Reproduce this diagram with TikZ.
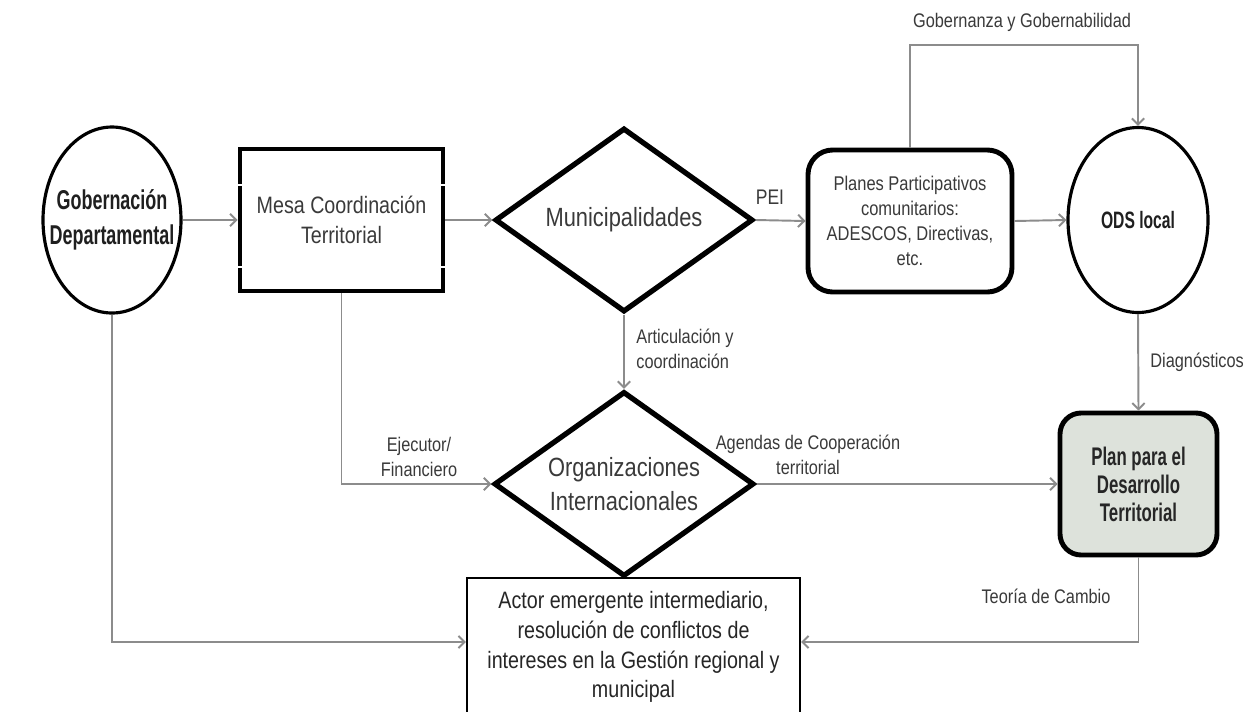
\documentclass[tikz,border=0pt]{standalone}
\usepackage{fontspec}
\setmainfont{Liberation Sans}[FakeStretch=0.83]
\newfontfamily\condfont{Liberation Sans}[FakeStretch=0.66]
\usetikzlibrary{shapes.geometric,arrows.meta}
\definecolor{txt}{HTML}{3A3A3A}
\definecolor{link}{HTML}{8C8C8C}
\definecolor{planfill}{HTML}{DDE2DB}

\begin{document}
\begin{tikzpicture}[x=0.02cm,y=-0.02cm,
  every node/.style={text=txt, align=center},
  flow/.style={draw=link, line width=1.1pt, -{Straight Barb[length=3.5pt,width=7pt]}},
  lbl/.style={font=\fontsize{11.2}{14.5}\selectfont, text=txt},
  oval/.style={ellipse, draw=black, line width=1.8pt, inner sep=0pt},
  thickbox/.style={rectangle, draw=black, line width=2.8pt, inner sep=0pt},
  rhomb/.style={diamond, draw=black, line width=3pt, inner sep=0pt, shape aspect=1.4},
  boldtext/.style={font=\condfont\bfseries\fontsize{#1}{20}\selectfont, text=black!88},
]
\useasboundingbox (0,0) rectangle (1248,711);
\fill[white] (0,0) rectangle (1248,711);

% main row
\node[oval, minimum width=138*0.02cm, minimum height=186*0.02cm,
  label={[boldtext=15.5]center:Gobernación\\Departamental}] (gob) at (112,220) {};
\node[thickbox, minimum width=203*0.02cm, minimum height=142*0.02cm,
  font=\fontsize{13.5}{17}\selectfont] (mesa) at (341.5,220)
  {Mesa Coordinación\\Territorial};
\node[rhomb, minimum width=258*0.02cm, minimum height=184*0.02cm,
  font=\fontsize{15}{18}\selectfont] (mun) at (624,220) {Municipalidades};
\node[thickbox, rounded corners=14pt, minimum width=204*0.02cm, minimum height=142*0.02cm,
  font=\fontsize{11.3}{14.2}\selectfont] (pp) at (910,221)
  {Planes Participativos\\comunitarios:\\ADESCOS, Directivas,\\etc.};
\node[oval, minimum width=140*0.02cm, minimum height=185*0.02cm,
  label={[boldtext=13.5]center:ODS local}] (ods) at (1138,220) {};

% second row
\node[rhomb, minimum width=260*0.02cm, minimum height=185*0.02cm,
  font=\fontsize{15}{19}\selectfont] (org) at (624,484)
  {Organizaciones\\Internacionales};
\node[thickbox, rounded corners=12pt, fill=planfill, minimum width=157*0.02cm,
  minimum height=142*0.02cm, font=\condfont\bfseries\fontsize{14.5}{16}\selectfont,
  text=black!85] (pdt) at (1138.5,484) {Plan para el\\Desarrollo\\Territorial};

% bottom box, running past the lower edge
\node[rectangle, draw=black, line width=1.2pt, minimum width=333*0.02cm,
  minimum height=138*0.02cm, inner sep=0pt, text=black!85,
  font=\fontsize{13.5}{17}\selectfont] (act) at (633.5,647)
  {Actor emergente intermediario,\\resolución de conflictos de\\intereses en la Gestión regional y\\municipal};

% small breaks in the frame of the coordination box
\foreach \yy in {185,267} {
  \draw[white, line width=0.7pt] (236,\yy) -- (245,\yy);
  \draw[white, line width=0.7pt] (438,\yy) -- (447,\yy);
}

% connectors
\draw[flow] (gob.east) -- (mesa.west);
\draw[flow] (mesa.east) -- (mun.west);
\draw[flow] (mun.east) -- (pp.west);
\draw[flow] (pp.east) -- (ods.west);
\draw[flow] (pp.north) -- (pp.north |- 0,45) -| (ods.north);
\draw[flow] (ods.south) -- (pdt.north);
\draw[flow] (mun.south) -- (org.north);
\draw[flow] (mesa.south) |- (org.west);
\draw[flow] (org.east) -- (pdt.west);
\draw[flow] (gob.south) |- (0,642 -| act.west);
\draw[flow] (pdt.south) |- (0,642 -| act.east);

% connector labels
\node[lbl, font=\fontsize{12}{14}\selectfont] (lpei) at (770,197) {PEI};
\node[lbl] (lgob) at (1022,22) {Gobernanza y Gobernabilidad};
\node[lbl, anchor=west, inner sep=0pt] (ldiag) at (1150,362) {Diagnósticos};
\node[lbl, anchor=west, align=left, inner sep=0pt] (lart) at (636,349) {Articulación y\\coordinación};
\node[lbl] (lejec) at (419,457) {Ejecutor/\\Financiero};
\node[lbl] (lagen) at (808,455) {Agendas de Cooperación\\territorial};
\node[lbl] (lteo) at (1046,596) {Teoría de Cambio};
\end{tikzpicture}
\end{document}
